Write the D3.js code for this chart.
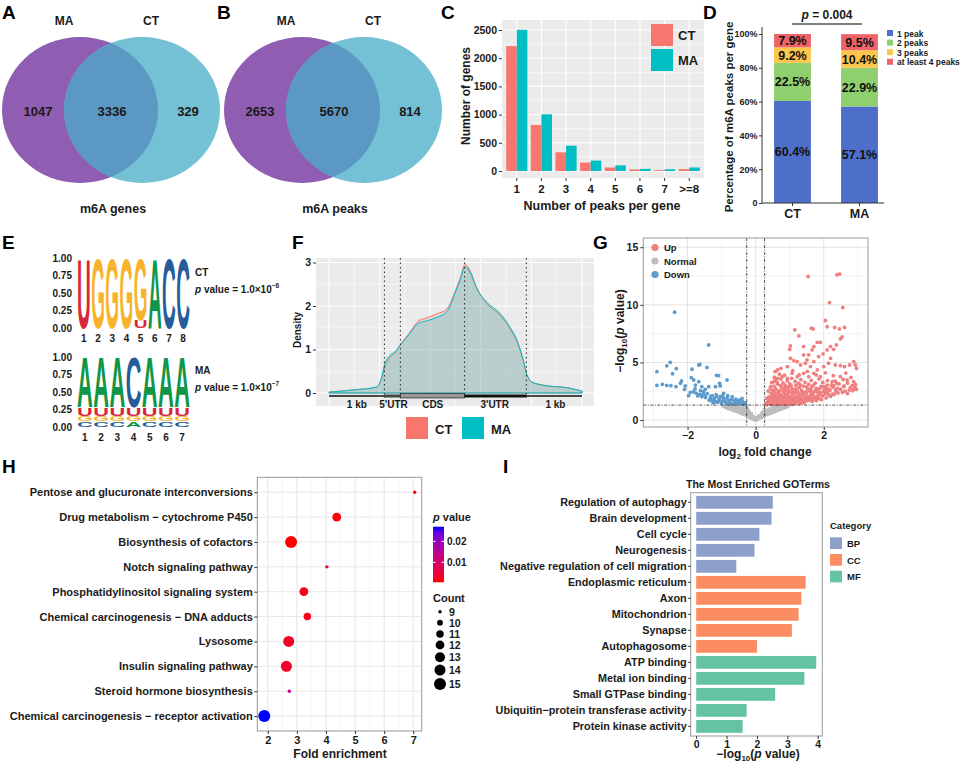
<!DOCTYPE html>
<html lang="en">
<head>
<meta charset="UTF-8">
<script src="https://cdn.jsdelivr.net/npm/d3@7"></script>
<style>
  body { margin: 0; background: #fff; }
  svg { display: block; }
  svg text { font-family: 'Liberation Sans', Arial, sans-serif; font-weight: bold; fill: #1a1a1a; }
</style>
</head>
<body>
<svg id="fig" width="969" height="764"></svg>
<script>
// ---- data: Venn (A, B)
const vennSets = ['MA', 'CT'];
const vennGenes = [1047, 3336, 329];
const vennPeaks = [2653, 5670, 814];

// ---- data: peaks per gene (C)
const peakCats = ['1', '2', '3', '4', '5', '6', '7', '>=8'];
const ctGenes = [2214, 816, 331, 150, 62, 28, 16, 34];
const maGenes = [2503, 1005, 449, 185, 100, 38, 30, 63];

// ---- data: percentage stacked (D)
const dGroups = ['CT', 'MA'];
const dClasses = ['1 peak', '2 peaks', '3 peaks', 'at least 4 peaks'];
const dCT = [60.4, 22.5, 9.2, 7.9];
const dMA = [57.1, 22.9, 10.4, 9.5];

// ---- data: motifs (E), each position bottom -> top
const ctMotif = [[['U', 1]], [['G', 1]], [['G', 1]], [['G', 1]], [['U', 0.11], ['G', 0.89]], [['A', 1]], [['C', 1]], [['C', 1]]];
const maMotif = [
  [['C', 0.08], ['G', 0.08], ['U', 0.12], ['A', 0.72]],
  [['C', 0.08], ['G', 0.08], ['U', 0.12], ['A', 0.72]],
  [['C', 0.08], ['G', 0.08], ['U', 0.12], ['A', 0.72]],
  [['A', 0.08], ['G', 0.08], ['U', 0.12], ['C', 0.72]],
  [['C', 0.08], ['G', 0.08], ['U', 0.12], ['A', 0.72]],
  [['C', 0.08], ['G', 0.08], ['U', 0.12], ['A', 0.72]],
  [['C', 0.08], ['G', 0.08], ['U', 0.12], ['A', 0.72]]
];

// ---- data: metagene density (F), x = relative position 0..100
const metaBounds = [21.9, 28.2, 53.6, 78.0];
const metaLabels = [['1 kb', 11], ['5\'UTR', 25.5], ['CDS', 41], ['3\'UTR', 65.5], ['1 kb', 89.5]];
const densMA = [[0, 0.02], [9.5, 0.07], [19, 0.14], [20.8, 0.37], [22.1, 0.68], [24.1, 0.87], [26.1, 0.95], [28.1, 1.1], [32, 1.37], [35.2, 1.6], [38.7, 1.66], [42.7, 1.74], [46.6, 1.87], [49.8, 2.29], [51.8, 2.59], [53.8, 2.91], [55.7, 2.78], [58.4, 2.4], [62.3, 2.09], [67.6, 1.83], [71.5, 1.52], [74.8, 1.14], [76.8, 0.76], [78.1, 0.45], [80.1, 0.26], [84.7, 0.18], [95.3, 0.11], [100, 0.04]];
const densCT = [[0, 0.02], [9.5, 0.07], [19, 0.14], [20.8, 0.33], [22.1, 0.6], [24.1, 0.82], [26.1, 0.92], [28.1, 1.1], [32, 1.4], [35.2, 1.65], [38.7, 1.73], [42.7, 1.82], [46.6, 1.93], [49.8, 2.33], [51.8, 2.63], [53.8, 2.96], [55.7, 2.82], [58.4, 2.42], [62.3, 2.06], [67.6, 1.79], [71.5, 1.48], [74.8, 1.1], [76.8, 0.73], [78.1, 0.44], [80.1, 0.25], [84.7, 0.18], [95.3, 0.11], [100, 0.04]];

// ---- data: volcano (G) [log2FC, -log10 p]
const volcanoDown = [[-2.38, 9.36], [-1.38, 6.52], [-2.9, 4.2], [-2.51, 5.01], [-2.61, 4.71], [-2.44, 4.02], [-2.33, 4.46], [-1.87, 4.41], [-1.67, 4.78], [-1.64, 4.83], [-1.43, 4.57], [-2.9, 3.01], [-2.74, 3.1], [-2.61, 3.01], [-2.49, 2.99], [-2.34, 2.9], [-2.21, 3.19], [-2.18, 3.39], [-2.09, 2.67], [-1.97, 2.12], [-1.89, 3.68], [-1.82, 3.48], [-1.77, 3.04], [-1.67, 3.33], [-1.58, 2.9], [-1.82, 2.46], [-1.74, 2.32], [-1.64, 2.23], [-1.58, 2.03], [-1.53, 2.46], [-1.48, 2.17], [-1.38, 2.9], [-1.28, 2.12], [-1.15, 3.88], [-1.09, 3.85], [-1.06, 3.19], [-1.04, 2.96], [-1.18, 2.9], [-0.84, 3.48], [-1.33, 1.88], [-1.23, 1.74], [-1.14, 2.03], [-1.04, 2.03], [-0.94, 1.88], [-0.89, 1.59], [-0.79, 1.74], [-0.69, 2.03], [-0.64, 1.68], [-0.54, 1.59], [-0.4, 1.88], [-0.45, 1.45], [-0.3, 1.39], [-1.28, 1.68], [-1.18, 1.59], [-0.99, 1.59], [-1.09, 1.68], [-1.48, 2.67], [-2.07, 2.96], [-0.94, 2.32], [-0.82, 2.12], [-0.74, 1.45],
  [-0.32, 1.52], [-0.36, 1.35], [-0.39, 1.62], [-0.48, 1.72], [-0.50, 1.40], [-0.58, 1.82], [-0.60, 1.50], [-0.67, 1.37], [-0.71, 1.79], [-0.77, 1.58], [-0.84, 1.92], [-0.86, 1.45], [-0.92, 1.70], [-0.97, 2.10], [-1.01, 1.48], [-1.06, 1.82], [-1.12, 1.55], [-1.16, 2.20], [-1.21, 1.90], [-1.25, 1.50], [-1.32, 2.05], [-1.36, 1.72], [-1.42, 2.30], [-1.47, 1.95], [-1.55, 2.20], [-1.62, 2.55], [-1.70, 2.10], [-1.78, 2.70], [-1.92, 2.40]];
const volcanoUp = [[1.54, 12.46], [2.39, 12.61], [2.47, 12.67], [2.17, 10.2], [2.56, 9.77], [2.05, 8.64], [1.15, 7.83], [1.64, 7.97], [1.69, 7.91], [2.1, 8.1], [2.32, 8.04], [2.46, 7.91], [2.61, 8.04], [1.27, 7.3], [2.49, 7.04], [2.54, 7.22], [2.37, 6.52], [2.2, 6.38], [1.81, 6.75], [1.9, 6.75], [1.02, 6.43], [1.0, 6.14], [1.41, 6.38], [1.71, 6.38], [1.66, 6.09], [2.1, 6.09], [2.29, 6.14], [1.56, 5.65], [1.41, 5.65], [1.98, 5.74], [1.85, 5.51], [1.02, 5.36], [1.12, 5.16], [1.51, 5.22], [1.71, 5.07], [2.2, 5.36], [2.88, 5.07], [2.93, 4.78], [2.96, 4.49], [2.76, 4.78], [2.61, 4.64], [2.49, 4.72], [2.34, 4.78], [2.14, 4.93], [2.0, 4.64], [1.81, 4.35], [1.61, 4.64], [1.46, 4.93], [1.32, 4.78], [1.22, 5.07], [0.93, 4.64], [0.74, 4.49], [0.64, 4.35], [0.57, 4.2], [2.49, 3.77], [2.69, 3.48], [2.88, 3.33], [2.93, 3.1], [2.88, 2.67], [2.96, 2.67], [2.59, 2.9], [2.39, 3.19], [2.25, 3.33], [2.1, 3.04], [1.95, 2.9], [2.35, 2.61], [2.25, 2.26], [2.1, 2.32], [1.9, 3.77], [1.71, 4.06], [1.56, 3.77], [1.41, 4.06], [1.22, 3.77], [1.07, 4.06], [0.93, 3.62], [0.78, 3.77], [0.64, 3.62], [0.54, 3.33], [0.44, 2.9],
  [0.30, 1.42], [0.36, 1.55], [0.41, 1.38], [0.45, 1.71], [0.49, 1.47], [0.53, 1.60], [0.58, 1.36], [0.61, 1.82], [0.66, 1.51], [0.70, 1.40], [0.73, 1.67], [0.77, 1.93], [0.81, 1.45], [0.85, 1.58], [0.88, 1.35], [0.92, 1.74], [0.96, 1.50], [1.01, 1.41], [1.05, 1.63], [1.10, 1.37], [1.14, 1.55], [1.19, 1.48], [1.24, 1.66], [1.30, 1.52], [1.36, 1.61], [1.43, 1.57],
  [0.33, 1.88], [0.39, 2.02], [0.44, 1.95], [0.50, 2.18], [0.55, 2.05], [0.59, 2.31], [0.64, 2.12], [0.68, 1.98], [0.72, 2.25], [0.79, 2.08], [0.83, 2.40], [0.87, 2.16], [0.91, 1.91], [0.95, 2.29], [0.99, 2.03], [1.03, 1.86], [1.08, 2.21], [1.12, 1.97], [1.17, 2.36], [1.21, 1.84], [1.26, 2.10], [1.32, 1.90], [1.38, 2.27], [1.44, 1.83], [1.49, 2.06], [1.55, 1.79], [1.61, 2.14], [1.67, 1.88], [1.73, 2.02], [1.80, 1.95], [1.87, 2.22], [1.95, 2.08], [2.05, 2.30], [2.14, 2.19],
  [0.37, 2.52], [0.43, 2.78], [0.48, 2.60], [0.54, 2.95], [0.60, 2.66], [0.65, 3.12], [0.71, 2.55], [0.76, 2.84], [0.82, 2.71], [0.86, 3.05], [0.90, 2.58], [0.97, 2.90], [1.02, 2.47], [1.07, 2.75], [1.13, 2.62], [1.18, 3.00], [1.23, 2.50], [1.29, 2.82], [1.35, 2.57], [1.41, 2.95], [1.47, 2.44], [1.53, 2.70], [1.59, 2.53], [1.65, 2.88], [1.71, 2.46], [1.78, 2.76], [1.84, 2.61], [1.92, 2.92], [1.99, 2.49], [2.08, 2.72], [2.18, 2.58], [2.26, 2.86], [2.37, 2.42], [2.50, 2.66], [2.63, 2.52], [2.78, 2.81],
  [0.47, 3.25], [0.57, 3.48], [0.63, 3.30], [0.74, 3.56], [0.80, 3.22], [0.93, 3.40], [1.00, 3.15], [1.06, 3.62], [1.16, 3.35], [1.26, 3.18], [1.33, 3.50], [1.45, 3.28], [1.56, 3.10], [1.63, 3.44], [1.75, 3.20], [1.86, 3.58], [1.97, 3.26], [2.11, 3.42], [2.22, 3.05], [2.34, 3.37], [2.45, 3.14], [2.57, 3.52], [2.70, 3.20], [2.84, 3.02],
  [0.32, 1.33], [0.34, 1.48], [0.38, 1.66], [0.40, 1.80], [0.42, 1.52], [0.47, 1.36], [0.47, 1.88], [0.51, 1.74], [0.52, 1.40], [0.56, 1.93], [0.57, 1.49], [0.60, 1.62], [0.62, 1.44], [0.63, 1.99], [0.67, 1.73], [0.69, 1.57], [0.71, 1.85], [0.75, 1.46], [0.75, 2.14], [0.79, 1.61], [0.80, 1.82], [0.84, 1.39], [0.84, 1.97], [0.89, 1.66], [0.90, 2.22], [0.93, 1.43], [0.94, 1.88], [0.98, 1.62], [0.98, 2.46], [1.00, 1.77], [1.04, 1.48], [1.06, 2.01], [1.09, 1.71], [1.11, 2.34], [1.15, 1.84], [1.16, 1.43], [1.20, 2.07], [1.22, 1.62], [1.27, 1.79], [1.28, 2.30], [1.31, 1.45], [1.34, 2.02], [1.37, 1.73], [1.40, 2.18], [1.42, 1.50], [1.46, 1.95], [1.50, 2.35], [1.52, 1.68], [1.57, 1.98], [1.60, 1.76], [1.63, 2.41], [1.66, 1.62], [1.69, 2.20], [1.72, 1.83], [1.76, 2.55], [1.78, 1.70], [1.82, 2.08], [1.85, 1.86], [1.90, 2.38], [1.93, 1.78], [1.98, 2.15], [2.02, 2.60], [2.07, 1.92], [2.12, 2.45], [2.20, 2.05], [2.30, 2.22], [2.42, 2.35], [2.55, 2.40], [2.70, 2.30], [2.85, 2.55],
  [0.45, 2.30], [0.53, 2.48], [0.58, 2.72], [0.66, 2.40], [0.73, 2.98], [0.81, 2.52], [0.88, 2.86], [0.95, 2.64], [1.04, 3.00], [1.10, 2.45], [1.20, 2.70], [1.31, 3.05], [1.38, 2.40], [1.50, 2.88], [1.61, 2.66], [1.69, 3.02], [1.81, 2.42], [1.89, 2.78], [2.02, 2.88], [2.15, 2.68], [2.30, 2.98], [2.41, 2.76], [2.60, 2.96], [2.75, 2.60], [2.92, 2.85], [0.55, 3.72], [0.70, 3.98], [0.85, 3.90], [1.09, 4.30], [1.28, 3.92], [1.52, 4.22], [1.78, 3.92], [2.05, 4.10], [2.28, 3.85], [2.65, 4.08], [2.80, 3.70]];
const volcanoNormal = [[-0.95, 1.22], [-0.90, 1.15], [-0.86, 1.25], [-0.82, 1.06], [-0.78, 1.18], [-0.74, 0.96], [-0.70, 1.12], [-0.66, 0.86], [-0.63, 1.24], [-0.60, 1.00], [-0.56, 0.74], [-0.53, 0.90], [-0.50, 1.08], [-0.46, 0.62], [-0.43, 0.80], [-0.40, 0.96], [-0.37, 0.50], [-0.34, 0.68], [-0.31, 0.85], [-0.28, 0.40], [-0.26, 0.58], [-0.25, 0.75], [-0.24, 0.95], [-0.22, 0.30], [-0.20, 0.48], [-0.18, 0.65], [-0.16, 0.22], [-0.14, 0.38], [-0.12, 0.55], [-0.10, 0.14], [-0.08, 0.30], [-0.06, 0.08], [-0.04, 0.20], [-0.02, 0.04], [0, 0], [0.02, 0.06], [0.04, 0.16], [0.06, 0.10], [0.08, 0.26], [0.10, 0.16], [0.12, 0.34], [0.14, 0.22], [0.16, 0.44], [0.18, 0.26], [0.20, 0.52], [0.22, 0.34], [0.24, 0.62], [0.25, 0.88], [0.26, 0.40], [0.28, 0.56], [0.31, 0.74], [0.34, 0.48], [0.37, 0.66], [0.40, 0.86], [0.43, 0.58], [0.46, 0.76], [0.50, 0.96], [0.53, 0.70], [0.56, 0.88], [0.60, 1.08], [0.63, 0.82], [0.66, 1.00], [0.70, 1.20], [0.73, 0.94], [0.76, 1.12], [0.80, 1.04], [0.83, 1.24], [0.87, 1.14], [0.90, 1.26], [0.93, 1.20],
  [-0.92, 1.28], [-0.88, 1.10], [-0.84, 1.18], [-0.80, 0.98], [-0.76, 1.26], [-0.72, 1.04], [-0.68, 0.90], [-0.65, 1.15], [-0.61, 0.80], [-0.58, 1.20], [-0.55, 0.84], [-0.52, 1.00], [-0.48, 0.68], [-0.45, 1.12], [-0.42, 0.72], [-0.39, 0.88], [-0.36, 1.02], [-0.33, 0.55], [-0.30, 0.95], [-0.29, 0.62], [-0.27, 1.20], [-0.23, 0.42], [-0.21, 0.80], [-0.19, 0.36], [-0.17, 0.55], [-0.15, 0.30], [-0.13, 0.47], [-0.11, 0.24], [-0.09, 0.20], [-0.07, 0.14], [-0.05, 0.26], [-0.03, 0.10], [-0.01, 0.06], [0.01, 0.02], [0.03, 0.08], [0.05, 0.22], [0.07, 0.16], [0.09, 0.34], [0.11, 0.24], [0.13, 0.30], [0.15, 0.36], [0.17, 0.30], [0.19, 0.62], [0.21, 0.42], [0.23, 0.50], [0.25, 0.70], [0.27, 0.46], [0.29, 0.64], [0.30, 0.84], [0.32, 0.58], [0.35, 0.76], [0.38, 0.56], [0.39, 0.96], [0.42, 0.70], [0.45, 0.88], [0.48, 0.66], [0.49, 1.10], [0.52, 0.82], [0.55, 1.00], [0.58, 0.78], [0.59, 1.20], [0.62, 0.95], [0.65, 1.12], [0.68, 0.90], [0.71, 1.06], [0.75, 1.26], [0.78, 1.00], [0.82, 1.16], [0.85, 1.06], [0.88, 1.22], [0.91, 1.12], [0.96, 1.24]];

// ---- data: KEGG (H)
const keggTerms = ['Pentose and glucuronate interconversions', 'Drug metabolism \u2212 cytochrome P450', 'Biosynthesis of cofactors', 'Notch signaling pathway', 'Phosphatidylinositol signaling system', 'Chemical carcinogenesis \u2212 DNA adducts', 'Lysosome', 'Insulin signaling pathway', 'Steroid hormone biosynthesis', 'Chemical carcinogenesis \u2212 receptor activation'];
const keggFold = [7.05, 4.37, 2.8, 4.03, 3.24, 3.36, 2.72, 2.64, 2.74, 1.88];
const keggCount = [9, 12, 15, 9, 12, 11, 14, 14, 9, 15];
const keggP = [0.002, 0.001, 0.0006, 0.003, 0.002, 0.002, 0.003, 0.003, 0.015, 0.027];
const countBreaks = [9, 10, 11, 12, 13, 14, 15];

// ---- data: GO (I)
const goTerms = ['Regulation of autophagy', 'Brain development', 'Cell cycle', 'Neurogenesis', 'Negative regulation of cell migration', 'Endoplasmic reticulum', 'Axon', 'Mitochondrion', 'Synapse', 'Autophagosome', 'ATP binding', 'Metal ion binding', 'Small GTPase binding', 'Ubiquitin\u2212protein transferase activity', 'Protein kinase activity'];
const goValues = [2.52, 2.48, 2.08, 1.92, 1.32, 3.6, 3.46, 3.37, 3.15, 2.0, 3.95, 3.56, 2.6, 1.66, 1.53];
const goCategory = ['BP', 'BP', 'BP', 'BP', 'BP', 'CC', 'CC', 'CC', 'CC', 'CC', 'MF', 'MF', 'MF', 'MF', 'MF'];
const goCats = ['BP', 'CC', 'MF'];

const svg = d3.select('#fig');

let txt = (g, x, y, s, size, anchor) => g.append('text')
    .attr('x', x).attr('y', y).attr('font-size', size)
    .attr('text-anchor', anchor || 'start').text(s);

let styleAxis = (sel, size) => {
    sel.attr('font-size', size).attr('font-family', null);
    sel.select('.domain').remove();
    sel.selectAll('.tick line').attr('stroke', '#333');
};

// panel letters
[['A', 2, 19], ['B', 217, 19], ['C', 441, 19], ['D', 703, 19], ['E', 2, 249], ['F', 292, 249], ['G', 593, 249], ['H', 2, 473], ['I', 503, 473]]
    .forEach(d => txt(svg, d[1], d[2], d[0], 19).style('fill', '#000'));

// ================= A, B : Venn
let drawVenn = (cx, counts, title, id) => {
    let g = svg.append('g');
    let cy = 110, rx = 78, ry = 73, dx = 62;
    g.append('clipPath').attr('id', id).append('ellipse')
        .attr('cx', cx).attr('cy', cy).attr('rx', rx).attr('ry', ry);
    g.append('ellipse').attr('cx', cx).attr('cy', cy).attr('rx', rx).attr('ry', ry).attr('fill', '#8f5db2');
    g.append('ellipse').attr('cx', cx + dx).attr('cy', cy).attr('rx', rx).attr('ry', ry).attr('fill', '#74c0d4');
    g.append('ellipse').attr('cx', cx + dx).attr('cy', cy).attr('rx', rx).attr('ry', ry)
        .attr('fill', '#5b98c3').attr('clip-path', `url(#${id})`);
    txt(g, cx - 16, 25, vennSets[0], 12, 'middle');
    txt(g, cx + dx + 9, 25, vennSets[1], 12, 'middle');
    [cx - 42, cx + 32, cx + 108].forEach((x, i) => txt(g, x, 116, counts[i], 13, 'middle'));
    txt(g, cx + 33, 213, title, 12.5, 'middle');
};
drawVenn(80, vennGenes, 'm6A genes', 'vclipA');
drawVenn(302, vennPeaks, 'm6A peaks', 'vclipB');

// ================= C : grouped bars
{
    let g = svg.append('g');
    let cX = d3.scaleBand().domain(peakCats).range([502, 704]).paddingInner(0.14).paddingOuter(0.17);
    let cSub = d3.scaleBand().domain(['CT', 'MA']).range([0, cX.bandwidth()]);
    let cY = d3.scaleLinear().domain([0, 2500]).range([171, 30]);
    let colors = { CT: '#F8766D', MA: '#00BFC4' };
    g.append('rect').attr('x', 502).attr('y', 20).attr('width', 202).attr('height', 158).attr('fill', '#ebebeb');
    g.selectAll('.mn').data([250, 750, 1250, 1750, 2250]).join('line')
        .attr('x1', 502).attr('x2', 704).attr('y1', d => cY(d)).attr('y2', d => cY(d))
        .attr('stroke', '#fff').attr('stroke-width', 0.5);
    g.selectAll('.mj').data(cY.ticks(5)).join('line')
        .attr('x1', 502).attr('x2', 704).attr('y1', d => cY(d)).attr('y2', d => cY(d))
        .attr('stroke', '#fff').attr('stroke-width', 1.1);
    g.selectAll('.vx').data(peakCats).join('line')
        .attr('x1', d => cX(d) + cX.bandwidth() / 2).attr('x2', d => cX(d) + cX.bandwidth() / 2)
        .attr('y1', 20).attr('y2', 178).attr('stroke', '#fff').attr('stroke-width', 1.1);
    let rows = peakCats.map((c, i) => ({ c, CT: ctGenes[i], MA: maGenes[i] }));
    ['CT', 'MA'].forEach(k => {
        g.selectAll('.b' + k).data(rows).join('rect')
            .attr('x', d => cX(d.c) + cSub(k)).attr('width', cSub.bandwidth())
            .attr('y', d => cY(d[k])).attr('height', d => cY(0) - cY(d[k]))
            .attr('fill', colors[k]);
    });
    let ay = g.append('g').attr('transform', 'translate(502,0)')
        .call(d3.axisLeft(cY).ticks(5).tickFormat(d3.format('d')).tickSize(3).tickPadding(2));
    styleAxis(ay, 10.5);
    let ax = g.append('g').attr('transform', 'translate(0,178)').call(d3.axisBottom(cX).tickSize(3).tickPadding(4));
    styleAxis(ax, 11.5);
    txt(g, 602, 210, 'Number of peaks per gene', 12.5, 'middle');
    txt(g, 0, 0, 'Number of genes', 12, 'middle').attr('transform', 'translate(470,96) rotate(-90)');
    ['CT', 'MA'].forEach((k, i) => {
        g.append('rect').attr('x', 651).attr('y', 24 + i * 25).attr('width', 22).attr('height', 22).attr('fill', colors[k]);
        txt(g, 678, 40 + i * 25, k, 13);
    });
}

// ================= D : stacked percentages
{
    let g = svg.append('g');
    let dColors = ['#4e6fc9', '#8fcf6d', '#fcc64d', '#ef6468'];
    let x = d3.scaleBand().domain(dGroups).range([762, 890]).paddingInner(0.45).paddingOuter(0.18);
    let y = d3.scaleLinear().domain([0, 100]).range([203, 34]);
    let rows = dGroups.map((gr, i) => {
        let vals = i === 0 ? dCT : dMA;
        let r = { group: gr };
        dClasses.forEach((c, j) => r[c] = vals[j]);
        return r;
    });
    let series = d3.stack().keys(dClasses)(rows);
    series.forEach((s, si) => {
        g.selectAll('.s' + si).data(s).join('rect')
            .attr('x', d => x(d.data.group)).attr('width', x.bandwidth())
            .attr('y', d => y(d[1])).attr('height', d => y(d[0]) - y(d[1]))
            .attr('fill', dColors[si]);
        g.selectAll('.t' + si).data(s).join('text')
            .attr('x', d => x(d.data.group) + x.bandwidth() / 2)
            .attr('y', d => (y(d[0]) + y(d[1])) / 2 + 4.5)
            .attr('text-anchor', 'middle').attr('font-size', 12.5)
            .style('fill', '#111')
            .text(d => d.data[s.key].toFixed(1) + '%');
    });
    let ay = g.append('g').attr('transform', 'translate(762,0)')
        .call(d3.axisLeft(y).tickValues([0, 20, 40, 60, 80, 100]).tickSize(3).tickPadding(1.5)
            .tickFormat(d => d === 0 ? '0' : d + '%'));
    styleAxis(ay, 9);
    g.append('line').attr('x1', 762).attr('x2', 762).attr('y1', 27).attr('y2', 203).attr('stroke', '#333');
    g.append('line').attr('x1', 762).attr('x2', 884).attr('y1', 203).attr('y2', 203).attr('stroke', '#333');
    let ax = g.append('g').attr('transform', 'translate(0,203)').call(d3.axisBottom(x).tickSize(3).tickPadding(3));
    styleAxis(ax, 12.5);
    txt(g, 0, 0, 'Percentage of m6A peaks per gene', 11.5, 'middle').attr('transform', 'translate(733,117) rotate(-90)');
    g.append('line').attr('x1', 792).attr('x2', 862).attr('y1', 24).attr('y2', 24).attr('stroke', '#555').attr('stroke-width', 1.5);
    let pt = txt(g, 827, 19, '', 12, 'middle');
    pt.append('tspan').attr('font-style', 'italic').text('p');
    pt.append('tspan').text(' = 0.004');
    dClasses.forEach((c, i) => {
        g.append('rect').attr('x', 887).attr('y', 30 + i * 9.6).attr('width', 6).attr('height', 6).attr('fill', dColors[i]);
        txt(g, 897, 36.5 + i * 9.6, c, 8.5);
    });
}

// ================= E : sequence logos
{
    let motifColors = { A: '#109648', C: '#255C99', G: '#F7B32B', U: '#D62839' };
    let drawLogo = (stacks, top, bottom, numY, name, expo, nameY) => {
        let g = svg.append('g');
        let x = d3.scaleBand().domain(d3.range(1, stacks.length + 1)).range([77, 190]).paddingInner(0.03);
        let y = d3.scaleLinear().domain([0, 1]).range([bottom, top]);
        let ay = g.append('g').attr('transform', 'translate(74,0)')
            .call(d3.axisLeft(y).tickValues([0, 0.25, 0.5, 0.75, 1]).tickSize(0).tickPadding(2).tickFormat(d3.format('.2f')));
        styleAxis(ay, 10);
        let fs = 40;
        stacks.forEach((st, i) => {
            let cum = 0;
            st.forEach(([L, p]) => {
                let y0 = y(cum), y1 = y(cum + p);
                cum += p;
                g.append('text')
                    .attr('transform', `translate(${x(i + 1)},${y0}) scale(1,${(y0 - y1) / (0.716 * fs)})`)
                    .attr('font-size', fs).attr('textLength', x.bandwidth()).attr('lengthAdjust', 'spacingAndGlyphs')
                    .style('fill', motifColors[L]).text(L);
            });
        });
        g.selectAll('.num').data(x.domain()).join('text')
            .attr('x', d => x(d) + x.bandwidth() / 2).attr('y', numY)
            .attr('text-anchor', 'middle').attr('font-size', 10).text(d => d);
        txt(g, 195, nameY, name, 10);
        let pv = txt(g, 195, nameY + 17, '', 10);
        pv.append('tspan').attr('font-style', 'italic').text('p');
        pv.append('tspan').text(' value = 1.0\u00d710');
        pv.append('tspan').attr('dy', -5).attr('font-size', 6.5).text(expo);
    };
    drawLogo(ctMotif, 258, 328, 342, 'CT', '\u22126', 276);
    drawLogo(maMotif, 357, 427, 441, 'MA', '\u22127', 374);
}

// ================= F : metagene density
{
    let g = svg.append('g');
    let x = d3.scaleLinear().domain([0, 100]).range([329, 582]);
    let y = d3.scaleLinear().domain([0, 3]).range([393, 262.5]);
    g.append('rect').attr('x', 316).attr('y', 258).attr('width', 278).attr('height', 148).attr('fill', '#ebebeb');
    g.selectAll('.ymn').data([0.5, 1.5, 2.5]).join('line')
        .attr('x1', 316).attr('x2', 594).attr('y1', d => y(d)).attr('y2', d => y(d)).attr('stroke', '#fff').attr('stroke-width', 0.5);
    g.selectAll('.xmn').data([10, 30, 50, 70, 90]).join('line')
        .attr('y1', 258).attr('y2', 406).attr('x1', d => x(d)).attr('x2', d => x(d)).attr('stroke', '#fff').attr('stroke-width', 0.5);
    g.selectAll('.ymj').data([0, 1, 2, 3]).join('line')
        .attr('x1', 316).attr('x2', 594).attr('y1', d => y(d)).attr('y2', d => y(d)).attr('stroke', '#fff').attr('stroke-width', 1.1);
    g.selectAll('.xmj').data([0, 20, 40, 60, 80, 100]).join('line')
        .attr('y1', 258).attr('y2', 406).attr('x1', d => x(d)).attr('x2', d => x(d)).attr('stroke', '#fff').attr('stroke-width', 1.1);
    let area = d3.area().x(d => x(d[0])).y0(y(0)).y1(d => y(d[1])).curve(d3.curveMonotoneX);
    g.append('path').attr('d', area(densCT)).attr('fill', '#F8766D').attr('fill-opacity', 0.22)
        .attr('stroke', '#F8766D').attr('stroke-width', 1);
    g.append('path').attr('d', area(densMA)).attr('fill', '#00BFC4').attr('fill-opacity', 0.22)
        .attr('stroke', '#00BFC4').attr('stroke-width', 1);
    g.selectAll('.bd').data(metaBounds).join('line')
        .attr('x1', d => x(d)).attr('x2', d => x(d)).attr('y1', 258).attr('y2', 398)
        .attr('stroke', '#222').attr('stroke-width', 1).attr('stroke-dasharray', '1.5,3');
    g.append('line').attr('x1', x(0)).attr('x2', x(100)).attr('y1', 396).attr('y2', 396).attr('stroke', '#111').attr('stroke-width', 1.4);
    g.append('rect').attr('x', x(metaBounds[0])).attr('width', x(metaBounds[1]) - x(metaBounds[0]))
        .attr('y', 394.5).attr('height', 3).attr('fill', '#444');
    g.append('rect').attr('x', x(metaBounds[1])).attr('width', x(metaBounds[2]) - x(metaBounds[1]))
        .attr('y', 393.5).attr('height', 4.5).attr('fill', '#999').attr('stroke', '#222').attr('stroke-width', 0.7);
    g.append('rect').attr('x', x(metaBounds[2])).attr('width', x(metaBounds[3]) - x(metaBounds[2]))
        .attr('y', 394.5).attr('height', 3).attr('fill', '#111');
    metaLabels.forEach(d => txt(g, x(d[1]), 407.5, d[0], 10, 'middle'));
    let ay = g.append('g').attr('transform', 'translate(316,0)').call(d3.axisLeft(y).ticks(3).tickSize(3).tickPadding(2));
    styleAxis(ay, 10.5);
    txt(g, 0, 0, 'Density', 10, 'middle').attr('transform', 'translate(301,330) rotate(-90)');
    [['CT', '#F8766D', 406], ['MA', '#00BFC4', 462]].forEach(d => {
        g.append('rect').attr('x', d[2]).attr('y', 417).attr('width', 22).attr('height', 22).attr('fill', d[1]);
        txt(g, d[2] + 29, 434, d[0], 13);
    });
}

// ================= G : volcano
{
    let g = svg.append('g');
    let x = d3.scaleLinear().domain([-3.3, 3.3]).range([643.3, 868]);
    let y = d3.scaleLinear().domain([-0.6, 15.8]).range([427, 238]);
    g.selectAll('.xmn').data([-3, -1, 1, 3]).join('line')
        .attr('x1', d => x(d)).attr('x2', d => x(d)).attr('y1', 238).attr('y2', 427).attr('stroke', '#ebebeb').attr('stroke-width', 0.6);
    g.selectAll('.ymn').data([2.5, 7.5, 12.5]).join('line')
        .attr('y1', d => y(d)).attr('y2', d => y(d)).attr('x1', 643.3).attr('x2', 868).attr('stroke', '#ebebeb').attr('stroke-width', 0.6);
    g.selectAll('.xmj').data([-2, 0, 2]).join('line')
        .attr('x1', d => x(d)).attr('x2', d => x(d)).attr('y1', 238).attr('y2', 427).attr('stroke', '#e3e3e3').attr('stroke-width', 1);
    g.selectAll('.ymj').data([0, 5, 10, 15]).join('line')
        .attr('y1', d => y(d)).attr('y2', d => y(d)).attr('x1', 643.3).attr('x2', 868).attr('stroke', '#e3e3e3').attr('stroke-width', 1);
    let groups = [[volcanoNormal, '#bdbdbd'], [volcanoDown, '#5e9bcc'], [volcanoUp, '#f07f7f']];
    groups.forEach(([data, col], i) => {
        g.selectAll('.p' + i).data(data).join('circle')
            .attr('cx', d => x(d[0])).attr('cy', d => y(d[1])).attr('r', 1.9).attr('fill', col);
    });
    [-0.263, 0.263].forEach(v => g.append('line').attr('x1', x(v)).attr('x2', x(v)).attr('y1', 238).attr('y2', 427)
        .attr('stroke', '#222').attr('stroke-width', 0.8).attr('stroke-dasharray', '3,1.5,1,1.5'));
    g.append('line').attr('x1', 643.3).attr('x2', 868).attr('y1', y(1.301)).attr('y2', y(1.301))
        .attr('stroke', '#222').attr('stroke-width', 0.8).attr('stroke-dasharray', '3,1.5,1,1.5');
    g.append('rect').attr('x', 643.3).attr('y', 238).attr('width', 224.7).attr('height', 189)
        .attr('fill', 'none').attr('stroke', '#999').attr('stroke-width', 1);
    let ay = g.append('g').attr('transform', 'translate(643.3,0)').call(d3.axisLeft(y).tickValues([0, 5, 10, 15]).tickSize(3).tickPadding(2));
    styleAxis(ay, 10.5);
    let ax = g.append('g').attr('transform', 'translate(0,427)').call(d3.axisBottom(x).tickValues([-2, 0, 2]).tickSize(3).tickPadding(2)
        .tickFormat(d => d < 0 ? '\u2212' + Math.abs(d) : d));
    styleAxis(ax, 10.5);
    let xt = txt(g, 765, 456, 'log', 12, 'middle');
    xt.append('tspan').attr('dy', 3).attr('font-size', 8).text('2');
    xt.append('tspan').attr('dy', -3).text(' fold change');
    let yt = txt(g, 0, 0, '\u2212log', 12, 'middle').attr('transform', 'translate(624,331) rotate(-90)');
    yt.append('tspan').attr('dy', 3).attr('font-size', 8).text('10');
    yt.append('tspan').attr('dy', -3).text('(');
    yt.append('tspan').attr('font-style', 'italic').text('p');
    yt.append('tspan').text(' value)');
    [['Up', '#f07f7f'], ['Normal', '#bdbdbd'], ['Down', '#5e9bcc']].forEach((d, i) => {
        g.append('circle').attr('cx', 655).attr('cy', 247.5 + i * 13.5).attr('r', 3.6).attr('fill', d[1]);
        txt(g, 664, 251 + i * 13.5, d[0], 9.5);
    });
}

// ================= H : KEGG bubble
{
    let g = svg.append('g');
    let x = d3.scaleLinear().domain([1.64, 7.29]).range([257.3, 421.7]);
    let y = d3.scalePoint().domain(keggTerms).range([477.3, 731]).padding(0.6);
    let r = d3.scaleRadial().domain([9, 15]).range([1.7, 6]);
    let col = d3.scaleLinear().domain([0.0005, 0.027]).range(['#ff0000', '#0000ff']).interpolate(d3.interpolateLab);
    g.selectAll('.xmn').data([2.5, 3.5, 4.5, 5.5, 6.5]).join('line')
        .attr('x1', d => x(d)).attr('x2', d => x(d)).attr('y1', 477.3).attr('y2', 731).attr('stroke', '#f0f0f0').attr('stroke-width', 0.6);
    g.selectAll('.xmj').data([2, 3, 4, 5, 6, 7]).join('line')
        .attr('x1', d => x(d)).attr('x2', d => x(d)).attr('y1', 477.3).attr('y2', 731).attr('stroke', '#e5e5e5').attr('stroke-width', 1);
    g.selectAll('.ymj').data(keggTerms).join('line')
        .attr('y1', d => y(d)).attr('y2', d => y(d)).attr('x1', 257.3).attr('x2', 421.7).attr('stroke', '#e8e8e8').attr('stroke-width', 1);
    let rows = keggTerms.map((t, i) => ({ t, f: keggFold[i], c: keggCount[i], p: keggP[i] }));
    g.selectAll('.pt').data(rows).join('circle')
        .attr('cx', d => x(d.f)).attr('cy', d => y(d.t)).attr('r', d => r(d.c)).attr('fill', d => col(d.p));
    g.append('rect').attr('x', 257.3).attr('y', 477.3).attr('width', 164.4).attr('height', 253.7)
        .attr('fill', 'none').attr('stroke', '#999').attr('stroke-width', 1);
    let ay = g.append('g').attr('transform', 'translate(257.3,0)').call(d3.axisLeft(y).tickSize(3).tickPadding(1.5));
    styleAxis(ay, 11);
    let ax = g.append('g').attr('transform', 'translate(0,731)')
        .call(d3.axisBottom(x).tickValues([2, 3, 4, 5, 6, 7]).tickFormat(d3.format('d')).tickSize(3).tickPadding(2));
    styleAxis(ax, 11);
    txt(g, 340, 758, 'Fold enrichment', 12, 'middle');
    // colour bar
    let grad = svg.append('defs').append('linearGradient').attr('id', 'pgrad')
        .attr('x1', 0).attr('y1', 1).attr('x2', 0).attr('y2', 0);
    d3.range(0, 1.01, 0.1).forEach(t => grad.append('stop').attr('offset', t)
        .attr('stop-color', col(0.0005 + t * (0.027 - 0.0005))));
    let bar = d3.scaleLinear().domain([0.0005, 0.027]).range([582.3, 526.7]);
    let lt = txt(g, 433, 521, '', 11);
    lt.append('tspan').attr('font-style', 'italic').text('p');
    lt.append('tspan').text(' value');
    g.append('rect').attr('x', 433).attr('y', 526.7).attr('width', 11).attr('height', 55.6).attr('fill', 'url(#pgrad)');
    [0.01, 0.02].forEach(v => {
        g.append('line').attr('x1', 433).attr('x2', 435.5).attr('y1', bar(v)).attr('y2', bar(v)).attr('stroke', '#fff');
        g.append('line').attr('x1', 441.5).attr('x2', 444).attr('y1', bar(v)).attr('y2', bar(v)).attr('stroke', '#fff');
        txt(g, 447, bar(v) + 3.8, v.toFixed(2), 10);
    });
    txt(g, 433, 602, 'Count', 11);
    let ly = [611.7, 622.7, 634, 645, 657.3, 670, 684];
    countBreaks.forEach((c, i) => {
        g.append('circle').attr('cx', 440).attr('cy', ly[i]).attr('r', r(c)).attr('fill', '#000');
        txt(g, 449, ly[i] + 3.8, c, 10.5);
    });
}

// ================= I : GO bars
{
    let g = svg.append('g');
    let catColor = { BP: '#8DA0CB', CC: '#FC8D62', MF: '#66C2A5' };
    let x = d3.scaleLinear().domain([-0.18, 4.15]).range([690.7, 822.3]);
    let y = d3.scaleBand().domain(goTerms).range([492.7, 736]).paddingInner(0.2).paddingOuter(0.2);
    let rows = goTerms.map((t, i) => ({ t, v: goValues[i], c: goCategory[i] }));
    g.selectAll('.bar').data(rows).join('rect')
        .attr('x', x(0)).attr('y', d => y(d.t)).attr('height', y.bandwidth())
        .attr('width', d => x(d.v) - x(0)).attr('fill', d => catColor[d.c]);
    g.append('rect').attr('x', 690.7).attr('y', 492.7).attr('width', 131.6).attr('height', 243.3)
        .attr('fill', 'none').attr('stroke', '#999').attr('stroke-width', 1);
    let ay = g.append('g').attr('transform', 'translate(690.7,0)').call(d3.axisLeft(y).tickSize(2.5).tickPadding(1.5));
    styleAxis(ay, 10.8);
    let ax = g.append('g').attr('transform', 'translate(0,736)')
        .call(d3.axisBottom(x).tickValues([0, 1, 2, 3, 4]).tickFormat(d3.format('d')).tickSize(3).tickPadding(1.5));
    styleAxis(ax, 10.5);
    txt(g, 758, 488, 'The Most Enriched GOTerms', 10.5, 'middle');
    let xt = txt(g, 758, 758, '\u2212log', 12, 'middle');
    xt.append('tspan').attr('dy', 3).attr('font-size', 8).text('10');
    xt.append('tspan').attr('dy', -3).text('(');
    xt.append('tspan').attr('font-style', 'italic').text('p');
    xt.append('tspan').text(' value)');
    txt(g, 830, 529, 'Category', 9.5);
    goCats.forEach((c, i) => {
        g.append('rect').attr('x', 830).attr('y', 537.3 + i * 16.7).attr('width', 12).attr('height', 11.7).attr('fill', catColor[c]);
        txt(g, 847, 547 + i * 16.7, c, 9.5);
    });
}
</script>
</body>
</html>
